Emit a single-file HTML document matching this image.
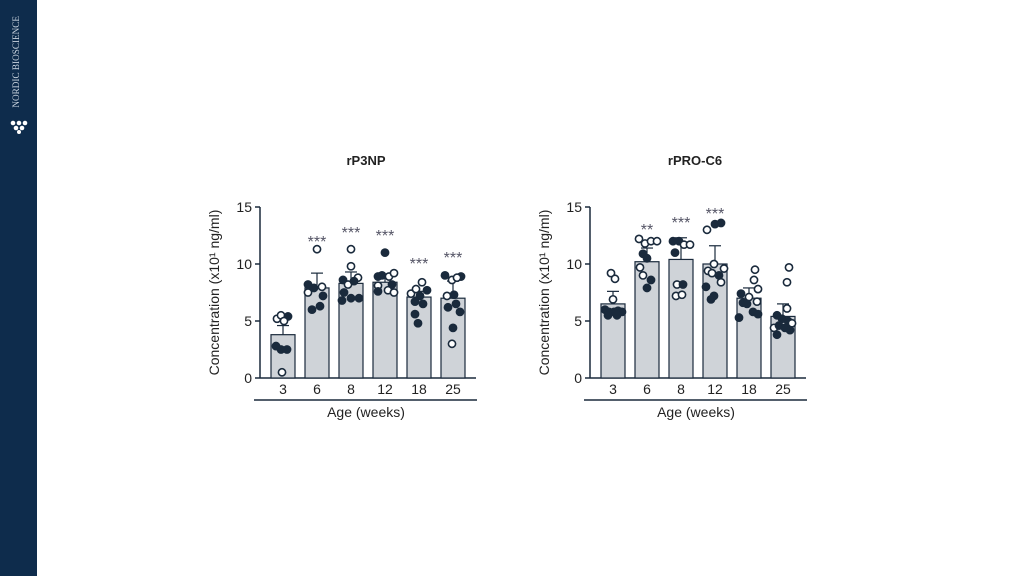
<!DOCTYPE html>
<html><head><meta charset="utf-8"><style>
body{margin:0;width:1024px;height:576px;background:#fff;overflow:hidden;font-family:"Liberation Sans",Arial,sans-serif;position:relative}
#side{position:absolute;left:0;top:0;width:37px;height:576px;background:#0e2c4c}
#brand{position:absolute;left:11px;top:16px;writing-mode:vertical-rl;transform:rotate(180deg);color:#c8d3de;font-family:"Liberation Serif",serif;font-size:9.2px;letter-spacing:0px}
</style></head><body>
<div id="side"><div id="brand">NORDIC BIOSCIENCE</div>
<svg style="position:absolute;left:9px;top:120px" width="20" height="14"><circle cx="4" cy="3" r="2.3" fill="#fff"/><circle cx="10" cy="3" r="2.3" fill="#fff"/><circle cx="16" cy="3" r="2.3" fill="#fff"/><circle cx="7" cy="8" r="2.3" fill="#fff"/><circle cx="13" cy="8" r="2.3" fill="#fff"/><circle cx="10" cy="12" r="2" fill="#fff"/></svg>
</div>
<svg id="c" width="1024" height="576" style="position:absolute;left:0;top:0"></svg>
<script>
const S='http://www.w3.org/2000/svg';const svg=document.getElementById('c');
function el(t,a,txt){const e=document.createElementNS(S,t);for(const k in a)e.setAttribute(k,a[k]);if(txt!==undefined)e.textContent=String(txt);svg.appendChild(e);return e;}
const C='#1a2a3c';
function chart(ax,title,titleX,bars,pts){
 const y0=378,k=11.4,Y=v=>y0-v*k;
 el('text',{x:titleX,y:165,'font-size':13,'font-weight':'bold','text-anchor':'middle',fill:'#222'},title);
 el('line',{x1:ax,y1:Y(15),x2:ax,y2:y0,stroke:C,'stroke-width':1.5});
 el('line',{x1:ax,y1:y0,x2:ax+216,y2:y0,stroke:C,'stroke-width':1.5});
 el('line',{x1:ax-6,y1:400,x2:ax+217,y2:400,stroke:C,'stroke-width':1.5});
 [0,5,10,15].forEach(v=>{el('line',{x1:ax-5,y1:Y(v),x2:ax,y2:Y(v),stroke:C,'stroke-width':1.5});
  el('text',{x:ax-8,y:Y(v)+5,'font-size':14,'text-anchor':'end',fill:'#222'},v)});
 el('text',{transform:`translate(${ax-41},${(y0+Y(15))/2}) rotate(-90)`,'font-size':14,'text-anchor':'middle',fill:'#222'},'Concentration (x10¹ ng/ml)');
 el('text',{x:ax+106,y:417,'font-size':14,'text-anchor':'middle',fill:'#222'},'Age (weeks)');
 const labs=[3,6,8,12,18,25];
 bars.forEach((b,i)=>{const cx=ax+23+i*34;
  el('rect',{x:cx-12,y:Y(b[0]),width:24,height:b[0]*k,fill:'#cfd3d8',stroke:C,'stroke-width':1.2});
  el('line',{x1:cx,y1:Y(b[0]),x2:cx,y2:Y(b[1]),stroke:C,'stroke-width':1.2});
  el('line',{x1:cx-6,y1:Y(b[1]),x2:cx+6,y2:Y(b[1]),stroke:C,'stroke-width':1.2});
  el('text',{x:cx,y:394,'font-size':14,'text-anchor':'middle',fill:'#222'},labs[i]);
  if(b[2])el('text',{x:cx,y:b[3]+7,'font-size':16,'text-anchor':'middle',fill:'#556'},b[2]);
  pts[i].forEach(p=>el('circle',{cx:cx+p[0],cy:Y(p[1]),r:3.6,fill:p[2]?'#fff':C,stroke:C,'stroke-width':1.6}));
 });
}
chart(260,'rP3NP',366,[[3.8,4.6,'',0],[7.9,9.2,'***',240],[8.3,9.3,'***',231],[8.4,8.8,'***',234],[7.1,7.6,'***',262],[7.0,8.5,'***',256]],
[[[-6,5.2,1],[-2,5.5,1],[5,5.4,0],[1,5.0,1],[-7,2.8,0],[-2,2.5,0],[4,2.5,0],[-1,0.5,1]],
 [[0,11.3,1],[-9,8.2,0],[5,8.0,1],[-9,7.5,1],[-3,7.9,0],[6,7.2,0],[-5,6.0,0],[3,6.3,0]],
 [[0,11.3,1],[0,9.8,1],[-8,8.6,0],[7,8.8,1],[-3,8.2,1],[3,8.5,0],[-9,6.8,0],[0,7.0,0],[8,7.0,0],[-7,7.5,0]],
 [[0,11.0,0],[-7,8.9,0],[-3,9.0,0],[4,8.9,1],[9,9.2,1],[-7,8.1,1],[7,8.2,0],[-7,7.6,0],[3,7.7,1],[9,7.5,1]],
 [[-8,7.4,1],[3,8.4,1],[-3,7.8,1],[8,7.7,0],[1,7.2,0],[-4,6.7,0],[4,6.5,0],[-4,5.6,0],[-1,4.8,0]],
 [[-8,9.0,0],[8,8.9,0],[-1,8.6,1],[4,8.8,1],[-6,7.2,1],[1,7.3,0],[-5,6.2,0],[3,6.5,0],[7,5.8,0],[0,4.4,0],[-1,3.0,1]]]);
chart(590,'rPRO-C6',695,[[6.5,7.6,'',0],[10.2,11.4,'**',228],[10.4,12.3,'***',221],[10.0,11.6,'***',212],[7.0,7.9,'',0],[5.4,6.5,'',0]],
[[[-2,9.2,1],[2,8.7,1],[0,6.9,1],[-8,6.0,0],[-4,5.8,0],[1,5.8,0],[5,5.9,0],[9,5.8,0],[-5,5.5,0],[4,5.5,0]],
 [[-8,12.2,1],[-2,11.8,1],[4,12.0,1],[10,12.0,1],[-4,10.9,0],[0,10.5,0],[-7,9.7,1],[-4,9.0,1],[4,8.6,0],[0,7.9,0]],
 [[-8,12.0,0],[-2,12.0,0],[3,11.7,1],[9,11.7,1],[-6,11.0,0],[-4,8.2,1],[2,8.2,0],[-5,7.2,1],[1,7.3,1]],
 [[-8,13.0,1],[0,13.5,0],[6,13.6,0],[-1,10.0,1],[-7,9.4,1],[-3,9.2,1],[4,9.0,0],[9,9.6,1],[-9,8.0,0],[6,8.4,1],[-1,7.2,0],[-4,6.9,0]],
 [[6,9.5,1],[5,8.6,1],[-8,7.4,0],[0,7.1,1],[9,7.8,1],[-6,6.6,0],[8,6.7,1],[-2,6.5,0],[4,5.8,0],[-10,5.3,0],[9,5.6,0]],
 [[6,9.7,1],[4,8.4,1],[4,6.1,1],[-6,5.5,0],[-1,5.2,0],[5,5.0,0],[-9,4.4,1],[-4,4.6,0],[9,4.8,1],[2,4.4,0],[-6,3.8,0],[7,4.2,0]]]);
</script>
</body></html>
